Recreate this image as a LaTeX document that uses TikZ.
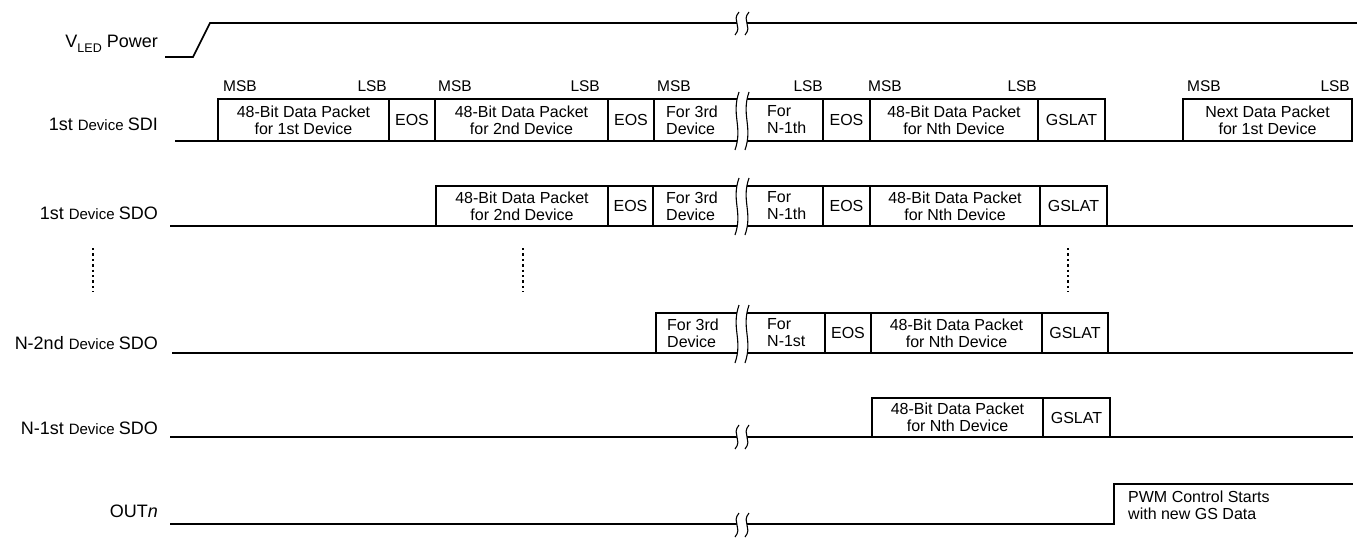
\documentclass[tikz,border=0pt]{standalone}
\usepackage{fontspec}
\setmainfont{Liberation Sans}
\newcommand{\LblL}{\fontsize{18}{20}\selectfont}
\newcommand{\LblS}{\fontsize{15}{17}\selectfont}
\tikzset{
  sig/.style={line width=1.7pt},
  boxln/.style={line width=1.8pt},
  brkln/.style={line width=1.1pt},
  pkt/.style={draw, line width=1.8pt, inner sep=0pt, align=center, minimum height=40pt,
    font=\fontsize{16}{17}\selectfont},
  ftxt/.style={inner sep=0pt, align=left, font=\fontsize{16}{17}\selectfont},
  lbl/.style={inner sep=0pt, anchor=base east},
  bitl/.style={inner sep=0pt, font=\fontsize{15.5}{17}\selectfont},
  dotln/.style={line width=2.4pt, dash pattern=on 2.4pt off 3pt},
}
\newcommand{\brkmark}[3]{%
  \fill[white] ({#1+2},#2) .. controls ({#1-6},{#2+0.4*(#3-#2)}) and ({#1+6},{#3-0.4*(#3-#2)}) .. ({#1-2},#3)
     -- ({#1+8},#3) .. controls ({#1+16},{#3-0.4*(#3-#2)}) and ({#1+4},{#2+0.4*(#3-#2)}) .. ({#1+12},#2) -- cycle;
  \draw[brkln] ({#1+2},#2) .. controls ({#1-6},{#2+0.4*(#3-#2)}) and ({#1+6},{#3-0.4*(#3-#2)}) .. ({#1-2},#3);
  \draw[brkln] ({#1+12},#2) .. controls ({#1+4},{#2+0.4*(#3-#2)}) and ({#1+16},{#3-0.4*(#3-#2)}) .. ({#1+8},#3);
}
\begin{document}
\begin{tikzpicture}[x=1pt,y=-1pt]
\useasboundingbox (0,0) rectangle (1357,538);

% ---------- VLED Power ----------
\node[lbl] (lV) at (158,47) {\LblL V\raisebox{-0.28em}{\fontsize{12.5}{13}\selectfont LED} Power};
\draw[sig] (165,57) -- (193,57) -- (210,23) -- (1357,23);
\brkmark{737}{12}{35}

% ---------- 1st Device SDI ----------
\node[lbl] (lSDI) at (158,130) {\LblL 1st \LblS Device \LblL SDI};
\draw[sig] (175,141) -- (1183,141);
\node[pkt, minimum height=42pt, minimum width=171pt] (sdiA) at (303.5,120) {48-Bit Data Packet\\for 1st Device};
\node[pkt, minimum height=42pt, minimum width=46pt] (sdiE1) at (412,120) {EOS};
\node[pkt, minimum height=42pt, minimum width=173pt] (sdiB) at (521.5,120) {48-Bit Data Packet\\for 2nd Device};
\node[pkt, minimum height=42pt, minimum width=46pt] (sdiE2) at (631,120) {EOS};
\draw[boxln] (654,99) rectangle (823,141);
\node[pkt, minimum height=42pt, minimum width=47pt] (sdiE3) at (846.5,120) {EOS};
\node[pkt, minimum height=42pt, minimum width=168pt] (sdiN) at (954,120) {48-Bit Data Packet\\for Nth Device};
\node[pkt, minimum height=42pt, minimum width=67pt] (sdiG) at (1071.5,120) {GSLAT};
\node[pkt, minimum height=42pt, minimum width=169pt] (sdiX) at (1267.5,120) {Next Data Packet\\for 1st Device};
\brkmark{737}{92}{150}
\node[ftxt, anchor=west] (sdi3) at (666,120) {For 3rd\\Device};
\node[ftxt, anchor=west] (sdiM) at (767,120) {For\\N-1th};

% MSB / LSB labels
\node[bitl, anchor=base west] (m1) at (223,91) {MSB};
\node[bitl, anchor=base east] (s1) at (387,91) {LSB};
\node[bitl, anchor=base west] (m2) at (438,91) {MSB};
\node[bitl, anchor=base east] (s2) at (600,91) {LSB};
\node[bitl, anchor=base west] (m3) at (657,91) {MSB};
\node[bitl, anchor=base east] (s3) at (823,91) {LSB};
\node[bitl, anchor=base west] (m4) at (868,91) {MSB};
\node[bitl, anchor=base east] (s4) at (1037,91) {LSB};
\node[bitl, anchor=base west] (m5) at (1187,91) {MSB};
\node[bitl, anchor=base east] (s5) at (1350,91) {LSB};

% ---------- 1st Device SDO ----------
\node[lbl] (lSDO) at (158,219) {\LblL 1st \LblS Device \LblL SDO};
\draw[sig] (170,226) -- (1353,226);
\node[pkt, minimum width=172pt] (sdoA) at (522,206) {48-Bit Data Packet\\for 2nd Device};
\node[pkt, minimum width=45pt] (sdoE1) at (630.5,206) {EOS};
\draw[boxln] (653,186) rectangle (823,226);
\node[pkt, minimum width=47pt] (sdoE2) at (846.5,206) {EOS};
\node[pkt, minimum width=170pt] (sdoN) at (955,206) {48-Bit Data Packet\\for Nth Device};
\node[pkt, minimum width=67pt] (sdoG) at (1073.5,206) {GSLAT};
\brkmark{737}{178}{235}
\node[ftxt, anchor=west] (sdo3) at (666,206) {For 3rd\\Device};
\node[ftxt, anchor=west] (sdoM) at (767,206) {For\\N-1th};

% ---------- dots ----------
\coordinate (d1a) at (93,248);  \coordinate (d1b) at (93,292);
\coordinate (d2a) at (523,248); \coordinate (d2b) at (523,292);
\coordinate (d3a) at (1068,248); \coordinate (d3b) at (1068,292);
\draw[dotln] (d1a) -- (d1b);
\draw[dotln] (d2a) -- (d2b);
\draw[dotln] (d3a) -- (d3b);

% ---------- N-2nd Device SDO ----------
\node[lbl] (lN2) at (158,349) {\LblL N-2nd \LblS Device \LblL SDO};
\draw[sig] (172,353) -- (1353,353);
\draw[boxln] (656,313) rectangle (825,353);
\node[pkt, minimum width=46pt] (n2E) at (848,333) {EOS};
\node[pkt, minimum width=171pt] (n2N) at (956.5,333) {48-Bit Data Packet\\for Nth Device};
\node[pkt, minimum width=66pt] (n2G) at (1075,333) {GSLAT};
\brkmark{737}{305}{363}
\node[ftxt, anchor=west] (n23) at (667,333) {For 3rd\\Device};
\node[ftxt, anchor=west] (n2M) at (767,333) {For\\N-1st};

% ---------- N-1st Device SDO ----------
\node[lbl] (lN1) at (158,434) {\LblL N-1st \LblS Device \LblL SDO};
\draw[sig] (170,437) -- (1353,437);
\node[pkt, minimum height=39pt, minimum width=171pt] (n1N) at (957.5,417.5) {48-Bit Data Packet\\for Nth Device};
\node[pkt, minimum height=39pt, minimum width=67pt] (n1G) at (1076.5,417.5) {GSLAT};
\brkmark{737}{425}{449}

% ---------- OUTn ----------
\node[lbl] (lOut) at (158,517) {\LblL OUT\textit{n}};
\draw[sig] (170,524) -- (1114,524) -- (1114,484) -- (1353,484);
\brkmark{737}{513}{537}
\node[ftxt, anchor=west] (pwm) at (1128,505) {PWM Control Starts\\with new GS Data};
\end{tikzpicture}
\end{document}
